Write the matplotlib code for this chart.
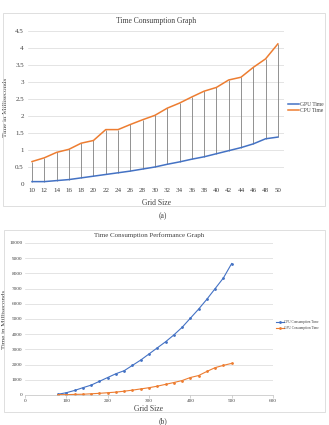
import numpy as np
import matplotlib
matplotlib.use("Agg")
import matplotlib.pyplot as plt
from matplotlib.patches import Rectangle

plt.rcParams['font.family'] = ['Liberation Serif', 'DejaVu Serif']

# (a) grid size vs time
grid_a = list(range(10, 52, 2))
gpu_a = [0.07, 0.07, 0.10, 0.13, 0.18, 0.23, 0.28, 0.33, 0.38, 0.44, 0.50,
         0.58, 0.65, 0.73, 0.80, 0.89, 0.98, 1.07, 1.18, 1.33, 1.38]
cpu_a = [0.66, 0.77, 0.93, 1.02, 1.20, 1.28, 1.60, 1.60, 1.75, 1.89, 2.02,
         2.23, 2.38, 2.56, 2.73, 2.84, 3.06, 3.14, 3.43, 3.68, 4.12]

# (b) larger grids
grid_b = list(range(80, 520, 20))
cpu_b = [50, 150, 300, 480, 650, 900, 1150, 1400, 1600, 1950, 2300, 2700,
         3100, 3500, 3950, 4450, 5050, 5650, 6300, 7000, 7700, 8650]
gpu_b = [30, 20, 40, 50, 80, 110, 150, 190, 250, 320, 400, 480,
         580, 700, 820, 950, 1150, 1280, 1550, 1800, 1950, 2080]

blue = '#4472C4'
orange = '#ED7D31'
txt = '#404040'
W, H = 329, 425

fig = plt.figure(figsize=(3.29, 4.25), dpi=100)

def px(x0, y0, x1, y1):
    # pixel box (top-left origin) -> figure fraction
    return [x0 / W, 1 - y1 / H, (x1 - x0) / W, (y1 - y0) / H]

for b in [(3, 13, 325, 206), (4, 230, 325, 412)]:
    r = px(*b)
    fig.patches.append(Rectangle((r[0], r[1]), r[2], r[3], transform=fig.transFigure,
                                 fill=False, edgecolor='#d9d9d9', linewidth=0.6))

# ---- top chart
ax = fig.add_axes(px(28, 31, 284, 184))
ax.vlines(grid_a, gpu_a, cpu_a, color='#808080', linewidth=0.6, zorder=2)
ax.plot(grid_a, gpu_a, color=blue, linewidth=1.1, label='GPU Time', zorder=3)
ax.plot(grid_a, cpu_a, color=orange, linewidth=1.1, label='CPU Time', zorder=3)
ax.set_xlim(9.35, 51)
ax.set_ylim(0, 4.5)
ax.set_xticks(grid_a)
ax.set_yticks(np.arange(0, 4.6, 0.5))
ax.set_yticklabels(['0', '0.5', '1', '1.5', '2', '2.5', '3', '3.5', '4', '4.5'])
ax.grid(axis='y', color='#d9d9d9', linewidth=0.5)
ax.set_axisbelow(True)
for s in ax.spines.values():
    s.set_visible(False)
ax.tick_params(length=0, labelsize=5, colors=txt, pad=3)
ax.set_title('Time Consumption Graph', fontsize=5.5, color=txt, pad=6)
ax.set_xlabel('Grid Size', fontsize=5.5, color=txt, labelpad=4)
ax.set_ylabel('Time in Milliseconds', fontsize=5, color=txt)
ax.yaxis.set_label_coords(-0.078, 0.5)
ax.legend(loc='center left', bbox_to_anchor=(1.0, 0.5), fontsize=4, frameon=False,
          handlelength=2.0, handletextpad=0.2, labelspacing=0.3, borderaxespad=0.3,
          labelcolor=txt)
fig.text(163 / W, 1 - 216 / H, '(a)', ha='center', va='center', fontsize=5.5, color=txt)

# ---- bottom chart
ax2 = fig.add_axes(px(25, 243, 273, 395))
ax2.plot(grid_b, cpu_b, color=blue, linewidth=0.8, marker='o', markersize=1.0,
         label='CPU Consumption Time')
ax2.plot(grid_b, gpu_b, color=orange, linewidth=0.8, marker='o', markersize=1.0,
         label='GPU Consumption Time')
ax2.set_xlim(0, 600)
ax2.set_ylim(0, 10000)
ax2.set_xticks(range(0, 700, 100))
ax2.set_yticks(range(0, 11000, 1000))
ax2.grid(axis='y', color='#d9d9d9', linewidth=0.5)
ax2.set_axisbelow(True)
for k in ['top', 'right', 'left']:
    ax2.spines[k].set_visible(False)
ax2.spines['bottom'].set_color('#bfbfbf')
ax2.spines['bottom'].set_linewidth(0.5)
ax2.tick_params(axis='y', length=0, labelsize=3.8, colors=txt, pad=2)
ax2.tick_params(axis='x', length=2, width=0.5, color='#bfbfbf', labelsize=3.8,
                colors=txt, pad=1)
ax2.tick_params(axis='x', colors='#bfbfbf', labelcolor=txt)
ax2.set_title('Time Consumption Performance Graph', fontsize=5, color=txt, pad=4)
ax2.set_xlabel('Grid Size', fontsize=5.5, color=txt, labelpad=1)
ax2.set_ylabel('Time in Milliseconds', fontsize=5, color=txt)
ax2.yaxis.set_label_coords(-0.072, 0.5)
ax2.legend(loc='center left', bbox_to_anchor=(1.0, 0.46), fontsize=2.5, frameon=False,
           handlelength=2.2, handletextpad=0.2, labelspacing=0.4, borderaxespad=0.5,
           labelcolor=txt)
fig.text(163 / W, 1 - 421 / H, '(b)', ha='center', va='center', fontsize=5.5, color=txt)

fig.savefig('out.png', dpi=100, facecolor='white')
